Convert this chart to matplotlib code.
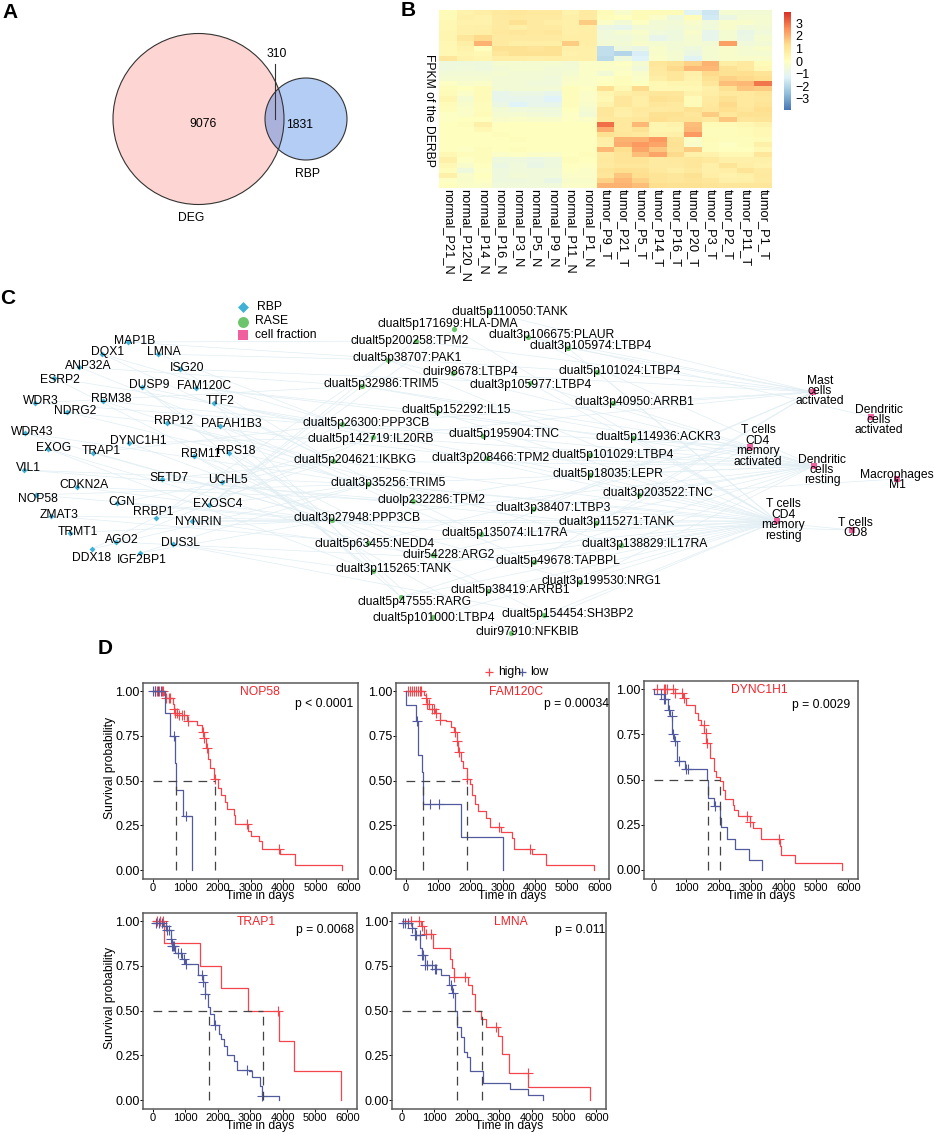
import numpy as np
import matplotlib
matplotlib.use("Agg")
import matplotlib.pyplot as plt
from matplotlib.colors import LinearSegmentedColormap
from matplotlib.patches import Circle

plt.rcParams["font.family"] = ["Liberation Sans", "DejaVu Sans"]
W, H = 934, 1134

# panel A
venn_labels = ["9076", "310", "1831", "DEG", "RBP"]

# panel B
heat_columns = ["normal_P21_N", "normal_P120_N", "normal_P14_N", "normal_P16_N", "normal_P3_N",
                "normal_P5_N", "normal_P9_N", "normal_P11_N", "normal_P1_N", "tumor_P9_T",
                "tumor_P21_T", "tumor_P5_T", "tumor_P14_T", "tumor_P16_T", "tumor_P20_T",
                "tumor_P3_T", "tumor_P2_T", "tumor_P11_T", "tumor_P1_T"]
heat_values = [
    [0.2, 0.5, 0.7, 0.9, 1.0, 0.9, 0.9, 0.5, 0.8, 0.2, -0.3, 0.2, 0.2, 0.2, -1.2, -1.6, -0.4, -0.5, -0.5],
    [0.2, 0.6, 0.5, 0.8, 0.9, 0.8, 0.8, 0.6, 0.8, 0.1, 0.0, 0.2, -0.2, -0.7, 0.1, -1.5, -0.8, -0.4, -0.4],
    [0.3, 0.5, 0.5, 0.8, 1.2, 0.8, 0.7, 0.6, 1.6, -0.2, -0.5, -0.1, -0.5, -0.5, -0.3, -0.6, -0.3, -0.3, -0.4],
    [0.3, 0.6, 0.6, 0.8, 0.7, 0.8, 0.8, 0.6, 0.7, -0.8, -1.0, -0.5, -0.5, -0.6, -0.4, -0.6, -0.3, -0.6, -0.5],
    [0.4, 0.6, 0.7, 0.9, 1.0, 0.9, 1.0, 0.6, 0.7, -0.6, -0.4, -0.3, -0.6, -0.7, -0.3, -1.0, -0.4, -0.9, -0.6],
    [0.4, 1.0, 1.4, 0.8, 0.8, 0.8, 0.8, 0.7, 0.7, -0.6, -0.6, -0.4, -1.0, -0.7, -0.4, -1.0, -0.4, -0.8, -0.4],
    [0.3, 0.7, 2.0, 0.8, 0.7, 0.7, 0.7, 1.6, 0.7, -0.5, -0.5, -0.3, -0.4, -0.5, -0.4, -0.5, 2.3, -0.6, -0.5],
    [0.3, 0.5, 0.0, 1.2, 1.2, 1.1, 1.2, 0.6, 0.6, -1.8, -0.7, -0.9, -0.3, -0.5, -0.7, -0.4, -0.3, -0.4, -0.3],
    [0.3, 0.4, 0.3, 1.0, 1.2, 1.2, 1.2, 0.5, 0.6, -1.8, -2.0, -1.4, -0.3, -0.4, -0.8, -0.4, -0.3, -0.4, -0.4],
    [1.0, 0.5, 0.4, 0.7, 0.7, 0.6, 0.7, 0.6, 0.6, -1.9, -0.7, -1.3, -0.2, -0.4, -1.2, -0.4, -0.3, -0.3, -0.3],
    [-0.7, -0.7, -0.7, -0.4, -0.4, -0.4, -0.4, -0.5, -0.2, -0.2, -0.1, -0.4, 1.0, 1.2, 1.5, 2.0, 0.7, 0.9, 0.2],
    [-0.7, -0.6, -0.7, -0.5, -0.4, -0.4, -0.5, -0.5, -0.2, -0.2, -0.2, -0.6, 0.9, 1.4, 1.9, 1.9, 1.2, 0.9, 0.3],
    [-0.5, -0.5, -0.5, -0.4, -0.5, -0.5, -0.5, -0.4, -0.2, -0.5, -0.1, -0.3, 0.8, 1.0, 0.6, 1.4, 1.2, 1.3, 1.1],
    [-0.4, -0.4, -0.4, -0.5, -0.5, -0.5, -0.6, -0.3, -0.2, -0.1, 0.1, -0.2, 0.7, 1.0, 0.5, 1.2, 1.5, 1.4, 1.3],
    [-0.1, -0.3, -0.2, -0.5, -0.5, -0.6, -0.6, -0.2, -0.2, 0.0, 0.1, 0.0, 0.3, 0.4, 0.4, 1.0, 1.8, 1.9, 2.9],
    [0.1, 0.0, 0.2, -0.5, -0.5, -0.5, -0.5, 0.1, -0.1, 1.3, 0.3, 1.4, 0.3, 0.3, 0.3, 0.6, 1.2, 1.7, 1.6],
    [0.2, -0.2, 0.2, -1.0, -0.8, -0.8, -1.0, 0.1, -0.2, 0.4, 0.7, 0.8, 1.0, 1.0, 0.5, 0.7, 0.9, 0.9, 1.1],
    [0.4, -0.4, 0.2, -1.0, -1.0, -1.0, -1.3, 0.1, -0.2, 0.3, 1.0, 0.7, 1.2, 1.1, 0.2, 0.8, 1.2, 0.9, 1.0],
    [0.2, -0.3, 0.1, -0.8, -1.3, -1.0, -1.0, 0.1, -0.3, 0.5, 1.0, 0.7, 1.0, 0.9, 0.2, 0.9, 1.4, 0.9, 1.1],
    [0.1, -0.2, 0.1, -0.5, -0.6, -0.7, -0.7, 0.0, -0.4, 1.0, 0.7, 0.9, 0.8, 0.9, 1.2, 1.0, 1.3, 1.0, 1.3],
    [-0.1, -0.2, 0.2, -0.4, -0.4, -0.5, -0.6, -0.1, -0.5, 1.0, 0.6, 0.8, 1.2, 1.2, 1.0, 1.6, 1.0, 1.2, 1.2],
    [-0.1, 0.0, 0.0, -0.3, -0.2, -0.3, -0.3, -0.1, -0.2, 0.9, 0.9, 1.0, 1.3, 1.1, 1.1, 0.9, 1.7, 1.0, 1.1],
    [0.0, 0.1, 0.6, 0.0, 0.0, 0.0, 0.0, 0.0, 0.0, 3.0, 0.9, 1.9, 0.4, 0.5, 1.8, 0.2, 0.2, 0.3, 0.5],
    [0.0, 0.0, 0.3, 0.0, 0.0, 0.0, 0.0, 0.0, 0.0, 2.1, 0.9, 1.2, 0.4, 0.4, 1.9, 0.1, 0.1, 0.2, 0.3],
    [0.0, 0.0, 0.0, 0.1, 0.0, 0.0, 0.0, 0.0, 0.0, 1.2, 1.0, 0.9, 0.5, 0.6, 2.4, 0.1, 0.1, 0.2, 0.3],
    [0.0, 0.0, 0.0, 0.0, 0.1, 0.0, 0.0, 0.0, 0.0, 0.7, 2.0, 2.0, 2.4, 1.1, -0.2, 0.2, 0.1, 0.1, 0.2],
    [0.0, 0.0, 0.0, 0.0, 0.0, 0.0, 0.0, 0.0, 0.0, 0.6, 2.1, 2.4, 2.2, 1.2, -0.3, 0.1, -0.1, 0.1, 0.6],
    [0.0, -0.1, 0.1, 0.0, 0.1, 0.0, 0.0, 0.0, 0.0, 1.9, 1.3, 2.2, 1.7, 1.1, 1.6, 0.1, 0.0, 0.0, 0.3],
    [0.3, 0.1, 0.1, -0.2, -0.1, -0.2, -0.2, 0.0, 0.1, 0.8, 1.1, 1.8, 2.2, 1.4, 0.6, 0.5, 0.3, 0.3, 1.0],
    [0.6, -0.1, 0.1, -0.7, -0.7, -0.8, -0.7, 0.1, 0.0, 0.9, 1.1, 1.1, 0.8, 0.9, 1.0, 0.9, 0.6, 0.6, 0.6],
    [0.3, -0.3, 0.0, -0.8, -0.6, -0.9, -0.7, 0.0, -0.1, 0.8, 1.0, 1.0, 0.8, 0.8, 1.0, 0.6, 1.1, 0.7, 0.5],
    [0.1, -0.7, -0.1, -0.7, -0.6, -0.6, -0.6, -0.1, -0.2, 1.1, 1.3, 1.2, 0.9, 0.7, 0.9, 0.6, 0.7, 1.1, 0.8],
    [0.6, -0.3, 0.0, -0.7, -0.5, -0.6, -0.6, -0.2, -0.2, 1.0, 1.7, 1.3, 1.1, 1.0, 1.2, 0.7, 0.5, 0.6, 0.9],
    [-0.1, -0.3, -0.1, -0.7, -0.7, -0.6, -0.9, -0.3, -0.3, 1.5, 1.9, 1.5, 1.1, 1.0, 1.1, 1.0, 0.6, 0.6, 0.8],
    [0.0, -0.2, -0.2, -0.6, -0.6, -0.6, -0.6, -0.2, -0.2, 2.0, 2.0, 1.8, 1.3, 1.2, 1.2, 1.1, 1.0, 1.0, 1.0],
]
heat_ticks = [3, 2, 1, 0, -1, -2, -3]
heat_colors = ["#4575B4", "#91BFDB", "#E0F3F8", "#FFFFBF", "#FEE090", "#FC8D59", "#D73027"]

# panel C: the network, node and label places in picture pixels
rbp_names = ["MAP1B", "DQX1", "LMNA", "ANP32A", "ISG20", "ESRP2", "DUSP9", "FAM120C", "WDR3", "RBM38",
             "TTF2", "NDRG2", "RRP12", "PAFAH1B3", "WDR43", "DYNC1H1", "EXOG", "TRAP1", "RBM11", "RPS18",
             "VIL1", "SETD7", "UCHL5", "CDKN2A", "NOP58", "CGN", "EXOSC4", "ZMAT3", "RRBP1", "NYNRIN",
             "TRMT1", "AGO2", "DUS3L", "DDX18", "IGF2BP1"]
rbp_label_xy = [(135, 341), (108, 352), (164, 352), (88, 366), (187, 368), (60, 380), (149, 385), (204, 386),
                (41, 401), (111, 399), (220, 401), (75, 411), (174, 421), (231, 424), (32, 432), (138, 441),
                (54, 448), (101, 451), (201, 454), (236, 451), (28, 468), (169, 478), (228, 480), (84, 485),
                (38, 499), (122, 502), (218, 504), (59, 515), (153, 512), (198, 522), (78, 532), (122, 540),
                (180, 543), (92, 558), (142, 560)]
rbp_node_xy = [(128, 342), (102, 354), (158, 354), (79, 367), (180, 369), (54, 378), (142, 387), (196, 388),
               (35, 403), (103, 401), (214, 403), (67, 412), (167, 423), (220, 426), (25, 433), (129, 443),
               (48, 449), (93, 453), (194, 456), (229, 453), (24, 470), (162, 479), (222, 482), (77, 487),
               (36, 495), (117, 503), (209, 505), (51, 516), (156, 518), (192, 521), (70, 533), (116, 542),
               (173, 544), (92, 549), (140, 553)]

rase_names = ["clualt5p110050:TANK", "clualt5p171699:HLA-DMA", "clualt3p106675:PLAUR", "clualt3p105974:LTBP4",
              "clualt5p200258:TPM2", "clualt5p38707:PAK1", "cluir98678:LTBP4", "clualt3p105977:LTBP4",
              "clualt5p101024:LTBP4", "clualt5p32986:TRIM5", "clualt3p40950:ARRB1", "clualt5p152292:IL15",
              "clualt5p26300:PPP3CB", "clualt5p195904:TNC", "clualt5p142719:IL20RB", "clualt5p114936:ACKR3",
              "clualt3p208466:TPM2", "clualt5p101029:LTBP4", "clualt5p204621:IKBKG", "clualt5p18035:LEPR",
              "clualt3p35256:TRIM5", "clualt3p203522:TNC", "cluolp232286:TPM2", "clualt3p38407:LTBP3",
              "clualt3p27948:PPP3CB", "clualt3p115271:TANK", "clualt5p135074:IL17RA", "clualt3p138829:IL17RA",
              "clualt5p63455:NEDD4", "cluir54228:ARG2", "clualt5p49678:TAPBPL", "clualt3p115265:TANK",
              "clualt3p199530:NRG1", "clualt5p38419:ARRB1", "clualt5p47555:RARG", "clualt5p154454:SH3BP2",
              "clualt5p101000:LTBP4", "cluir97910:NFKBIB"]
rase_label_xy = [(510, 312), (448, 324), (552, 335), (591, 346), (410, 341), (407, 358), (470, 372), (531, 385),
                 (620, 371), (381, 384), (634, 402), (456, 410), (366, 423), (504, 434), (371, 439), (658, 437),
                 (491, 458), (613, 455), (355, 460), (608, 474), (388, 483), (658, 493), (432, 500), (553, 508),
                 (357, 518), (617, 522), (505, 533), (645, 544), (375, 544), (449, 555), (558, 561), (394, 569),
                 (601, 581), (510, 590), (415, 602), (568, 614), (434, 618), (527, 632)]
rase_node_xy = [(489, 312), (454, 329), (528, 337), (568, 348), (416, 341), (388, 360), (453, 373), (530, 383),
                (597, 372), (362, 386), (613, 403), (437, 412), (342, 424), (483, 436), (373, 437), (633, 438),
                (487, 458), (590, 455), (333, 461), (590, 475), (368, 484), (639, 495), (413, 501), (533, 509),
                (332, 520), (596, 523), (481, 534), (621, 545), (368, 543), (433, 555), (534, 562), (373, 571),
                (580, 582), (488, 591), (401, 597), (544, 615), (433, 617), (511, 633)]

cell_names = ["Mast\ncells\nactivated", "Dendritic\ncells\nactivated", "T cells\nCD4\nmemory\nactivated",
              "Dendritic\ncells\nresting", "Macrophages\nM1", "T cells\nCD4\nmemory\nresting", "T cells\nCD8"]
cell_label_xy = [(820, 391), (879, 420), (758, 446), (822, 470), (897, 480), (783, 520), (855, 528)]
cell_node_xy = [(813, 392), (871, 417), (750, 447), (814, 466), (897, 479), (777, 521), (852, 530)]

rbp_rase_links = [(0, 4), (0, 8), (1, 18), (1, 12), (2, 14), (2, 5), (3, 9), (3, 20), (4, 7), (4, 18),
                  (5, 12), (5, 24), (6, 21), (6, 28), (6, 31), (7, 15), (7, 11), (8, 9), (8, 13), (9, 12),
                  (9, 22), (10, 19), (10, 26), (10, 34), (11, 16), (11, 20), (12, 27), (12, 18), (13, 30),
                  (13, 36), (14, 24), (14, 20), (15, 14), (15, 29), (16, 28), (16, 31), (17, 24), (17, 12),
                  (18, 33), (18, 37), (19, 34), (19, 31), (19, 35), (20, 20), (20, 22), (21, 25), (21, 18),
                  (22, 32), (22, 14), (23, 22), (23, 24), (24, 24), (24, 20), (25, 26), (25, 18), (26, 9),
                  (26, 5), (26, 1), (26, 20), (27, 24), (27, 28), (28, 18), (28, 4), (29, 29), (29, 24),
                  (29, 25), (30, 24), (31, 14), (31, 30), (32, 31), (32, 35), (33, 20), (33, 12), (34, 24),
                  (34, 20)]
rase_cell_links = [(0, 0), (1, 5), (2, 0), (2, 3), (3, 0), (3, 5), (4, 0), (5, 5), (5, 3), (6, 0), (7, 5),
                   (7, 3), (8, 0), (8, 5), (9, 2), (9, 3), (10, 0), (10, 3), (11, 3), (11, 5), (12, 0),
                   (12, 2), (13, 3), (13, 5), (14, 0), (14, 3), (15, 2), (15, 5), (16, 3), (16, 5), (17, 2),
                   (17, 3), (18, 3), (18, 5), (19, 3), (19, 5), (20, 3), (20, 5), (21, 0), (21, 5), (21, 3),
                   (22, 5), (22, 2), (23, 0), (23, 3), (24, 5), (24, 3), (25, 5), (25, 2), (26, 0), (26, 5),
                   (27, 5), (27, 3), (28, 5), (28, 2), (29, 5), (29, 3), (30, 0), (30, 5), (31, 5), (32, 3),
                   (32, 5), (33, 5), (34, 3), (34, 5), (35, 5), (36, 5), (37, 5), (2, 1), (21, 4), (25, 6), (20, 6)]
network_legend = ["RBP", "RASE", "cell fraction"]

# panel D: Kaplan-Meier steps as (day, survival)
nop58_high = [(0, 1), (350, .98), (400, .96), (600, .93), (640, .90), (680, .88), (750, .865), (1050, .83),
              (1350, .81), (1500, .77), (1570, .74), (1620, .68), (1700, .62), (1750, .57), (1880, .51), (2000, .46),
              (2100, .42), (2200, .38), (2280, .34), (2480, .31), (2530, .26), (2930, .22), (3000, .19), (3250, .16),
              (3350, .115), (3900, .09), (4350, .03), (5820, 0)]
nop58_low = [(0, 1), (360, .875), (530, .75), (670, .60), (700, .45), (920, .30), (1210, 0)]
nop58_high_cens = [60, 120, 180, 260, 300, 400, 500, 530, 640, 680, 730, 800, 900, 950, 1060, 1530, 1580, 1650, 1900, 2900, 3870]
nop58_low_cens = [10, 60, 150, 250, 650, 1020]

fam120c_high = [(0, 1), (560, .98), (620, .96), (660, .93), (720, .90), (900, .88), (1050, .84), (1250, .83),
                (1400, .80), (1500, .77), (1570, .72), (1620, .66), (1720, .61), (1780, .57), (1880, .51), (2000, .48),
                (2050, .42), (2150, .37), (2250, .33), (2480, .29), (2600, .24), (2950, .215), (3300, .18), (3350, .12),
                (3900, .09), (4350, .03), (5820, 0)]
fam120c_low = [(0, 1), (10, .92), (320, .83), (370, .645), (490, .55), (520, .37), (1700, .185), (3000, 0)]
fam120c_high_cens = [50, 120, 180, 250, 320, 380, 450, 480, 620, 660, 700, 800, 880, 940, 1060, 1510, 1570, 1640, 1900, 2900, 3860]
fam120c_low_cens = [330, 760, 1020]

dync1h1_high = [(0, 1), (640, .98), (900, .95), (1000, .91), (1250, .87), (1350, .83), (1450, .80), (1550, .76),
                (1600, .70), (1720, .62), (1850, .55), (1900, .515), (2050, .49), (2120, .44), (2200, .395), (2430, .36),
                (2480, .33), (2600, .30), (2950, .265), (3050, .23), (3300, .17), (3900, .13), (3920, .085), (4350, .04),
                (5820, 0)]
dync1h1_low = [(0, 1), (10, .975), (300, .945), (430, .885), (500, .85), (560, .75), (620, .715), (700, .60),
               (950, .56), (1640, .50), (1680, .40), (1850, .355), (2040, .29), (2080, .235), (2240, .17), (2500, .115),
               (2930, .055), (3350, 0)]
dync1h1_high_cens = [80, 300, 340, 400, 600, 650, 860, 930, 1540, 1590, 1640, 2880, 2950, 3870]
dync1h1_low_cens = [200, 300, 340, 450, 540, 600, 650, 780, 1000, 1060, 1880]

trap1_high = [(0, 1), (340, .875), (1450, .75), (2090, .625), (2930, .50), (3900, .33), (4350, .165), (5820, 0)]
trap1_low = [(0, .99), (300, .97), (400, .95), (550, .90), (600, .86), (680, .82), (900, .79), (1000, .76),
             (1400, .70), (1530, .66), (1600, .59), (1700, .52), (1750, .48), (1880, .42), (2050, .37), (2100, .34),
             (2200, .30), (2300, .25), (2500, .22), (2580, .17), (2960, .16), (3050, .13), (3300, .08), (3370, .025),
             (3900, 0)]
trap1_high_cens = [130, 200, 300, 3850]
trap1_low_cens = [80, 170, 270, 390, 440, 500, 560, 600, 620, 660, 780, 860, 950, 1020, 1500, 1550, 1610, 1900, 2900, 3370]

lmna_high = [(0, 1), (600, .97), (680, .93), (950, .85), (1480, .79), (1530, .74), (1600, .69), (2050, .64),
             (2150, .59), (2250, .50), (2450, .455), (2600, .41), (2950, .36), (3100, .255), (3300, .15), (3900, .075),
             (5820, 0)]
lmna_low = [(0, .99), (300, .96), (400, .92), (550, .85), (620, .81), (700, .755), (1020, .73), (1200, .70),
            (1450, .64), (1550, .60), (1650, .50), (1700, .41), (1820, .35), (1900, .27), (2000, .24), (2100, .165),
            (2500, .095), (3350, .06), (3900, .03), (4350, 0)]
lmna_high_cens = [280, 520, 620, 750, 880, 1620, 1930, 2900, 3880]
lmna_low_cens = [30, 100, 170, 300, 400, 420, 540, 620, 660, 700, 770, 930, 1020, 1050, 1500, 1560]

km_panels = [
    dict(gene="NOP58", p="p < 0.0001", high=nop58_high, low=nop58_low, high_c=nop58_high_cens, low_c=nop58_low_cens,
         med=(700, 1900), box=(143, 683, 358, 879), gene_at=(3290, .995), p_at=(5270, .93), ylab=True),
    dict(gene="FAM120C", p="p = 0.00034", high=fam120c_high, low=fam120c_low, high_c=fam120c_high_cens, low_c=fam120c_low_cens,
         med=(520, 1900), box=(396, 683, 609, 879), gene_at=(3415, .995), p_at=(5280, .93), ylab=False),
    dict(gene="DYNC1H1", p="p = 0.0029", high=dync1h1_high, low=dync1h1_low, high_c=dync1h1_high_cens, low_c=dync1h1_low_cens,
         med=(1680, 2050), box=(644, 681, 858, 879), gene_at=(3260, .995), p_at=(5175, .912), ylab=False),
    dict(gene="TRAP1", p="p = 0.0068", high=trap1_high, low=trap1_low, high_c=trap1_high_cens, low_c=trap1_low_cens,
         med=(1740, 3410), box=(143, 913, 357, 1109), gene_at=(3190, .995), p_at=(5310, .95), ylab=True),
    dict(gene="LMNA", p="p = 0.011", high=lmna_high, low=lmna_low, high_c=lmna_high_cens, low_c=lmna_low_cens,
         med=(1700, 2470), box=(392, 913, 606, 1109), gene_at=(3350, .995), p_at=(5515, .95), ylab=False),
]
km_xticks = [0, 1000, 2000, 3000, 4000, 5000, 6000]
km_yticks = [0, 0.25, 0.5, 0.75, 1]

RED = "#f4454c"
NAVY = "#525a9e"
GREY = "#5a5a5a"
TXT = 8.7


def px_axes(left, top, right, bottom):
    return fig.add_axes([left / W, 1 - bottom / H, (right - left) / W, (bottom - top) / H])


def surv_at(steps, t):
    s = steps[0][1]
    for day, val in steps:
        if day <= t:
            s = val
    return s


def draw_km(p):
    ax = px_axes(*p["box"])
    for steps, cens, col in [(p["high"], p["high_c"], RED), (p["low"], p["low_c"], NAVY)]:
        days = [a for a, b in steps]
        vals = [b for a, b in steps]
        ax.step(days, vals, where="post", color=col, lw=0.9)
        ax.plot(cens, [surv_at(steps, c) for c in cens], "+", color=col, ms=7, mew=0.8, ls="none")
    hi = max(p["med"])
    ax.plot([0, hi], [0.5, 0.5], color="#444444", lw=0.9, dashes=(7, 5))
    for m in p["med"]:
        ax.plot([m, m], [0, 0.5], color="#444444", lw=0.9, dashes=(7, 5))
    ax.set_xlim(-310, 6300)
    ax.set_ylim(-0.05, 1.045)
    ax.set_xticks(km_xticks)
    ax.set_yticks(km_yticks)
    ax.set_yticklabels(["0.00", "0.25", "0.50", "0.75", "1.00"])
    ax.tick_params(axis="x", labelsize=8, length=2, width=0.7, pad=1)
    ax.tick_params(axis="y", labelsize=9, length=2, width=0.7, pad=0.5)
    for s in ax.spines.values():
        s.set_color(GREY)
        s.set_linewidth(1.1)
    ax.set_xlabel("Time in days", fontsize=TXT, va="center")
    ax.xaxis.set_label_coords(0.545, -0.088)
    if p["ylab"]:
        ax.set_ylabel("Survival probability", fontsize=TXT, va="center")
        ax.yaxis.set_label_coords(-0.153, 0.566)
    ax.text(p["gene_at"][0], p["gene_at"][1], p["gene"], color="#f0252c", fontsize=TXT, ha="center", va="center")
    ax.text(p["p_at"][0], p["p_at"][1], p["p"], color="black", fontsize=TXT, ha="center", va="center")


fig = plt.figure(figsize=(W / 100, H / 100), dpi=100)

# overlay in picture pixels for the venn, the network and the letters
over = fig.add_axes([0, 0, 1, 1])
over.set_xlim(0, W)
over.set_ylim(H, 0)
over.axis("off")

# A
deg = Circle((198.5, 119), 85.5, fc="#fdd6d3", ec="none", zorder=1)
rbp = Circle((306, 119), 41, fc="#b3cdf5", ec="none", zorder=1)
over.add_patch(deg)
over.add_patch(rbp)
both = Circle((306, 119), 41, fc="#aab2dc", ec="none", zorder=2)
over.add_patch(both)
both.set_clip_path(deg)
over.add_patch(Circle((198.5, 119), 85.5, fc="none", ec="#333333", lw=0.8, zorder=3))
over.add_patch(Circle((306, 119), 41, fc="none", ec="#333333", lw=0.8, zorder=3))
over.plot([274.5, 274.5], [64, 119], color="#333333", lw=0.8, zorder=4)
for name, x, y in zip(venn_labels, [203, 277, 300, 191, 308], [124, 54, 125, 218, 174]):
    over.text(x, y, name, fontsize=TXT, ha="center", va="center", zorder=5)

# C
for a, b in rbp_rase_links:
    over.plot([rbp_node_xy[a][0], rase_node_xy[b][0]], [rbp_node_xy[a][1], rase_node_xy[b][1]],
              color="#e0eef4", lw=0.5, zorder=1)
for a, b in rase_cell_links:
    over.plot([rase_node_xy[a][0], cell_node_xy[b][0]], [rase_node_xy[a][1], cell_node_xy[b][1]],
              color="#e0eef4", lw=0.5, zorder=1)
over.scatter(*zip(*rbp_node_xy), marker="D", s=9, color="#3fb1d6", zorder=2, lw=0)
over.scatter(*zip(*rase_node_xy), marker="o", s=14, color="#6cc46c", zorder=2, lw=0)
over.scatter(*zip(*cell_node_xy), marker="s", s=14, color="#f0609f", zorder=2, lw=0)
for names, places in [(rbp_names, rbp_label_xy), (rase_names, rase_label_xy), (cell_names, cell_label_xy)]:
    for name, (x, y) in zip(names, places):
        over.text(x, y, name, fontsize=TXT, ha="center", va="center", linespacing=0.82, zorder=3)
over.scatter([243], [307], marker="D", s=31, color="#3fb1d6", lw=0)
over.scatter([243], [322], marker="o", s=62, color="#6cc46c", lw=0)
over.scatter([243], [335], marker="s", s=58, color="#f0609f", lw=0)
for name, x, y in zip(network_legend, [257, 255, 255], [307, 321, 335]):
    over.text(x, y, name, fontsize=TXT, ha="left", va="center")

for letter, x, y in [("A", 10, 12), ("B", 408, 11), ("C", 8, 299), ("D", 105, 648)]:
    over.text(x, y, letter, fontsize=15, fontweight="bold", ha="center", va="center")

# D legend
over.plot([489], [672], "+", color=RED, ms=6, mew=0.9)
over.plot([522], [672], "+", color=NAVY, ms=6, mew=0.9)
over.text(498, 672, "high", fontsize=TXT, ha="left", va="center")
over.text(530, 672, "low", fontsize=TXT, ha="left", va="center")

# B
heat_cmap = LinearSegmentedColormap.from_list("pheat", heat_colors)
hm = px_axes(439, 10, 772, 188)
im = hm.imshow(np.array(heat_values), aspect="auto", cmap=heat_cmap, vmin=-3.9, vmax=3.9, interpolation="nearest")
hm.set_xticks(range(len(heat_columns)))
hm.set_xticklabels(heat_columns, rotation=270, fontsize=9.3, ha="center", va="top")
hm.set_yticks([])
hm.tick_params(axis="x", length=0, pad=1)
for s in hm.spines.values():
    s.set_visible(False)
over.text(429, 110, "FPKM of the DERBP", rotation=270, fontsize=TXT, ha="center", va="center")
cax = px_axes(784, 12, 791, 110)
cb = fig.colorbar(im, cax=cax, ticks=heat_ticks)
cb.outline.set_visible(False)
cb.ax.tick_params(labelsize=9, length=0, pad=3)
cb.ax.set_yticklabels(["3", "2", "1", "0", "\u22121", "\u22122", "\u22123"])

# D
for p in km_panels:
    draw_km(p)

fig.savefig("out.png", dpi=100)
